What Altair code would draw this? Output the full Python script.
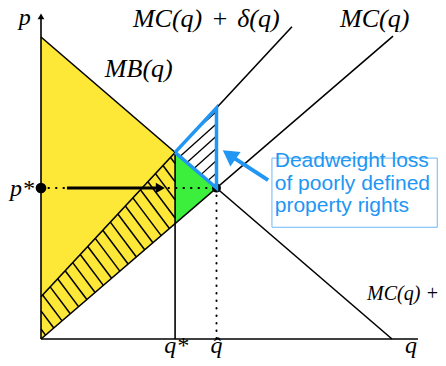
import altair as alt
import pandas as pd
import numpy as np

# ---- diagram values (data units) ----
mb_q = [0.0, 10.0]
mb_p = [10.0, 0.0]
mc_q = [0.0, 10.03]
mc_p = [0.0, 10.03]
mcd_q = [0.0, 7.15]
mcd_p = [1.4, 10.34]
mcd_icpt = 1.4
mcd_slope = 1.25
q_star = 3.82
q_hat = 5.0
p_star = 5.0
p_mb_qstar = 6.18
p_mcd_qhat = 7.65
axis_q_max = 10.74
axis_p_max = 10.83

XS = alt.Scale(domain=[-0.940, 11.311])
YS = alt.Scale(domain=[-0.629, 10.960])


def X(f="q"):
    return alt.X(f"{f}:Q", scale=XS, axis=None)


def Y(f="p"):
    return alt.Y(f"{f}:Q", scale=YS, axis=None)


def rules(df, **kw):
    return alt.Chart(df).mark_rule(**kw).encode(
        x=X("q"), x2="q2:Q", y=Y("p"), y2="p2:Q")


# filled regions
yellow = pd.DataFrame({"q": [0.0, q_star], "top": [mb_p[0], p_mb_qstar], "bot": [0.0, q_star]})
green = pd.DataFrame({"q": [q_star, q_hat], "top": [p_mb_qstar, p_star], "bot": [q_star, p_star]})
yellow_area = alt.Chart(yellow).mark_area(color="#fde837", opacity=1).encode(x=X("q"), y=Y("top"), y2="bot:Q")
green_area = alt.Chart(green).mark_area(color="#3cef3c", opacity=1).encode(x=X("q"), y=Y("top"), y2="bot:Q")

# hatching of the band between MC and MC+delta (0..q*)
k1 = 1.55
segs = []
for c in np.arange(0.33, 12.2, 0.60):
    lo = max(0.0, (c - mcd_icpt) / (mcd_slope + k1))
    hi = min(q_star, c / (1 + k1))
    if hi > lo:
        segs.append((lo, c - k1 * lo, hi, c - k1 * hi))
hatch1 = pd.DataFrame(segs, columns=["q", "p", "q2", "p2"])

# hatching of deadweight-loss triangle
k2 = 1.046
segs = []
for c in np.arange(0.27, 2.42, 0.407):
    lo = max((c - mcd_icpt) / (mcd_slope - k2), (10 - c) / (1 + k2))
    hi = q_hat
    if hi > lo:
        segs.append((lo, c + k2 * lo, hi, c + k2 * hi))
hatch2 = pd.DataFrame(segs, columns=["q", "p", "q2", "p2"])

curves = pd.DataFrame({
    "q": [mb_q[0], mc_q[0], mcd_q[0], q_star],
    "p": [mb_p[0], mc_p[0], mcd_p[0], 0.0],
    "q2": [mb_q[1], mc_q[1], mcd_q[1], q_star],
    "p2": [mb_p[1], mc_p[1], mcd_p[1], p_mb_qstar],
})
axes = pd.DataFrame({"q": [0.0, 0.0], "p": [0.0, 0.0], "q2": [0.0, axis_q_max], "p2": [axis_p_max - 0.15, 0.0]})
dotted = pd.DataFrame({"q": [0.0, q_hat], "p": [p_star, p_star], "q2": [q_hat, q_hat], "p2": [p_star, 0.0]})
arrow = pd.DataFrame({"q": [0.74], "p": [p_star], "q2": [3.35], "p2": [p_star]})
blue_arrow = pd.DataFrame({"q": [6.47], "p": [5.26], "q2": [5.32], "p2": [6.13]})

tri = pd.DataFrame({"q": [q_star, q_hat, q_hat, q_star], "p": [p_mb_qstar, p_mcd_qhat, p_star, p_mb_qstar], "i": [0, 1, 2, 3]})
tri_line = alt.Chart(tri).mark_line(color="#2196f3", strokeWidth=3.5, strokeJoin="miter").encode(
    x=X("q"), y=Y("p"), order="i:Q")

dots = pd.DataFrame({"q": [0.0, q_hat], "p": [p_star, p_star], "s": [115, 80]})
dots_m = alt.Chart(dots).mark_point(filled=True, color="black", opacity=1).encode(
    x=X("q"), y=Y("p"), size=alt.Size("s:Q", scale=None, legend=None))

head_black = alt.Chart(pd.DataFrame({"q": [3.40], "p": [p_star]})).mark_point(
    shape="triangle-right", filled=True, color="black", opacity=1, size=110).encode(x=X("q"), y=Y("p"))
head_axis = alt.Chart(pd.DataFrame({"q": [0.0], "p": [axis_p_max - 0.15]})).mark_point(
    shape="triangle-up", filled=True, color="black", opacity=1, size=45).encode(x=X("q"), y=Y("p"))
head_blue = alt.Chart(pd.DataFrame({"q": [5.36], "p": [6.1]})).mark_point(
    shape="triangle-up", filled=True, color="#2196f3", opacity=1, size=320, angle=305).encode(x=X("q"), y=Y("p"))

box = pd.DataFrame({"q": [6.58], "p": [5.99], "q2": [11.29], "p2": [3.70]})
box_m = alt.Chart(box).mark_rect(fill="white", stroke="#6cb8f6", strokeWidth=1).encode(
    x=X("q"), x2="q2:Q", y=Y("p"), y2="p2:Q")

note_lines = ["Deadweight loss", "of poorly defined", "property rights"]
note = pd.DataFrame({"q": [6.66] * 3, "p": [5.69, 4.93, 4.19], "t": note_lines})
note_m = alt.Chart(note).mark_text(align="left", baseline="alphabetic", font="Liberation Sans",
                                   fontSize=21, color="#2196f3").encode(x=X("q"), y=Y("p"), text="t:N")

big = pd.DataFrame({
    "t": ["MC(q)\u2004+\u2004δ(q)", "MC(q)", "MB(q)"],
    "q": [2.62, 8.52, 1.82],
    "p": [10.33, 10.33, 8.67],
})
big_m = alt.Chart(big).mark_text(align="left", baseline="alphabetic", font="Liberation Serif",
                                 fontStyle="italic", fontSize=26, color="black").encode(
    x=X("q"), y=Y("p"), text="t:N")

labels = pd.DataFrame({
    "t": ["p", "p*", "q*", "q\u0302", "q"],
    "q": [-0.46, -0.20, 3.85, 5.0, 10.54],
    "p": [10.40, 4.74, -0.47, -0.47, -0.47],
    "a": ["center", "right", "center", "center", "center"],
})
lab_layers = []
for a in ["center", "right"]:
    sub = labels[labels.a == a]
    lab_layers.append(alt.Chart(sub).mark_text(align=a, baseline="alphabetic", font="Liberation Serif",
                                                fontStyle="italic", fontSize=24, color="black").encode(
        x=X("q"), y=Y("p"), text="t:N"))
small_lab = alt.Chart(pd.DataFrame({"q": [9.29], "p": [1.29], "t": ["MC(q) +"]})).mark_text(
    align="left", baseline="alphabetic", font="Liberation Serif", fontStyle="italic", fontSize=20,
    color="black").encode(x=X("q"), y=Y("p"), text="t:N")

chart = alt.layer(
    yellow_area,
    green_area,
    rules(hatch1, color="black", strokeWidth=1.5),
    rules(hatch2, color="black", strokeWidth=1.3),
    rules(dotted, color="black", strokeWidth=2, strokeDash=[0.5, 7], strokeCap="round"),
    rules(curves, color="black", strokeWidth=1.6),
    rules(axes, color="black", strokeWidth=1.6),
    rules(arrow, color="black", strokeWidth=3),
    head_black,
    head_axis,
    dots_m,
    tri_line,
    rules(blue_arrow, color="#2196f3", strokeWidth=4),
    head_blue,
    box_m,
    note_m,
    big_m,
    *lab_layers,
    small_lab,
).properties(
    width=430, height=350, padding=0, autosize=alt.AutoSizeParams(type="none")
).configure_view(stroke=None)

chart.save("out.html", embed_options={"renderer": "svg", "actions": False})
